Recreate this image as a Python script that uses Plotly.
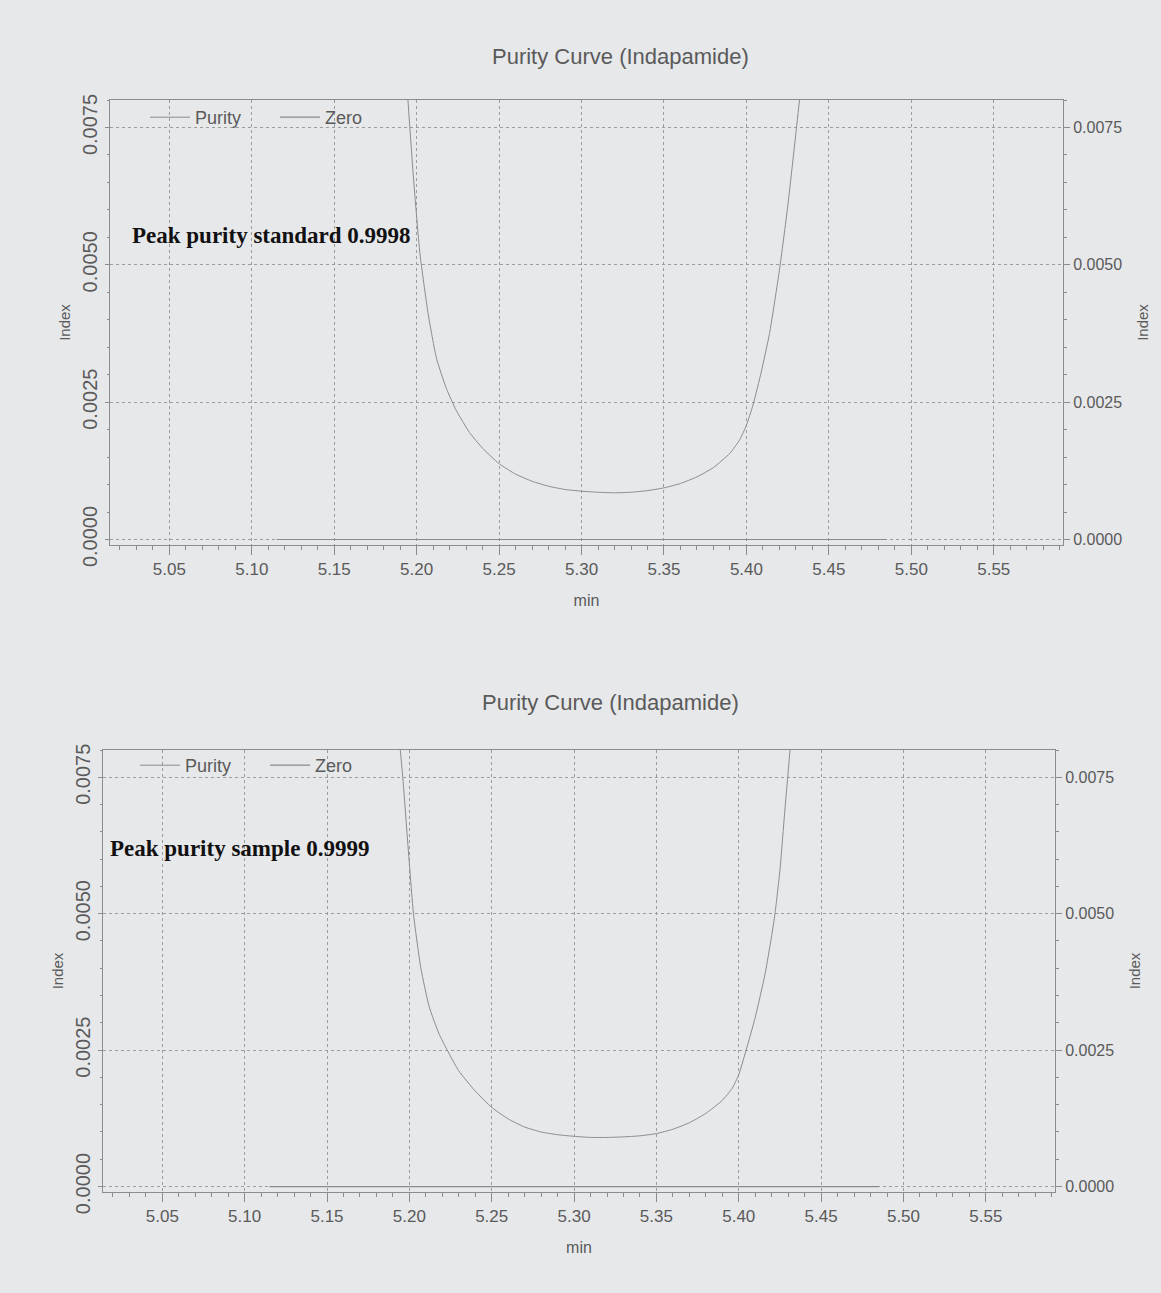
import plotly.graph_objects as go

# ---- data ----
std_time = [5.190, 5.194, 5.198, 5.202, 5.207, 5.212, 5.218, 5.224, 5.232, 5.240,
            5.250, 5.260, 5.270, 5.280, 5.290, 5.300, 5.310, 5.320, 5.330, 5.340,
            5.350, 5.360, 5.370, 5.380, 5.390, 5.396, 5.400, 5.404, 5.409, 5.414,
            5.420, 5.425, 5.430, 5.434]
std_purity = [0.0100, 0.0083, 0.0066, 0.0052, 0.0041, 0.0033, 0.00275, 0.00235, 0.00195, 0.00166,
              0.00138, 0.00119, 0.00106, 0.00097, 0.00091, 0.00088, 0.00086, 0.00085, 0.00086, 0.00089,
              0.00094, 0.00102, 0.00114, 0.00131, 0.00157, 0.00182, 0.00208, 0.00245, 0.00305, 0.00375,
              0.00490, 0.00605, 0.00740, 0.00850]

smp_time = [5.190, 5.193, 5.196, 5.2025, 5.207, 5.212, 5.218, 5.223, 5.230, 5.240,
            5.250, 5.260, 5.270, 5.280, 5.290, 5.300, 5.310, 5.320, 5.330, 5.340,
            5.350, 5.360, 5.370, 5.380, 5.390, 5.396, 5.400, 5.404, 5.410, 5.416,
            5.420, 5.422, 5.425, 5.428, 5.430, 5.433]
smp_purity = [0.0098, 0.0085, 0.0075, 0.0050, 0.0040, 0.0033, 0.0028, 0.0025, 0.00212, 0.00175,
              0.00145, 0.00124, 0.00109, 0.00100, 0.00095, 0.00092, 0.00090, 0.00090, 0.00091, 0.00093,
              0.00097, 0.00105, 0.00117, 0.00134, 0.00158, 0.00180, 0.00205, 0.00245, 0.00310, 0.00390,
              0.00460, 0.00500, 0.00580, 0.00690, 0.00760, 0.00870]

zero_time = [5.115, 5.485]
zero_value = [0.0, 0.0]

titles = ["Purity Curve (Indapamide)", "Purity Curve (Indapamide)"]
notes = ["Peak purity standard 0.9998", "Peak purity sample 0.9999"]

# ---- styling ----
BG = "#e7e8ea"
TXT = "#5a5a5a"
LINE = "#8c8c8c"
GRID = "#9c9c9c"
FONT = "Liberation Sans"

W, H = 1161, 1293

fig = go.Figure()

CURVE = dict(color=LINE, width=1, shape="spline", smoothing=0.5)
ZERO = dict(color="#8a8a8a", width=1.2)

# top chart
fig.add_trace(go.Scatter(x=std_time, y=std_purity, mode="lines", name="Purity",
                         line=CURVE, xaxis="x", yaxis="y", legend="legend"))
fig.add_trace(go.Scatter(x=zero_time, y=zero_value, mode="lines", name="Zero",
                         line=ZERO, xaxis="x", yaxis="y", legend="legend"))
fig.add_trace(go.Scatter(x=zero_time, y=zero_value, mode="lines", showlegend=False,
                         line=dict(width=0), opacity=0, hoverinfo="skip", xaxis="x", yaxis="y2"))
# bottom chart
fig.add_trace(go.Scatter(x=smp_time, y=smp_purity, mode="lines", name="Purity",
                         line=CURVE, xaxis="x2", yaxis="y3", legend="legend2"))
fig.add_trace(go.Scatter(x=zero_time, y=zero_value, mode="lines", name="Zero",
                         line=ZERO, xaxis="x2", yaxis="y3", legend="legend2"))
fig.add_trace(go.Scatter(x=zero_time, y=zero_value, mode="lines", showlegend=False,
                         line=dict(width=0), opacity=0, hoverinfo="skip", xaxis="x2", yaxis="y4"))

XR = [5.014, 5.592]
YR = [-0.0001, 0.0080]

def xax(domain, anchor):
    return dict(domain=domain, anchor=anchor, range=XR, tick0=5.0, dtick=0.05, tickformat=".2f",
                ticks="outside", ticklen=9, tickcolor=LINE, automargin=False,
                minor=dict(dtick=0.01, ticks="outside", ticklen=4, tickcolor=LINE, showgrid=False),
                showgrid=True, gridcolor=GRID, griddash="dot", gridwidth=1,
                showline=True, linecolor=LINE, linewidth=1, mirror=True,
                zeroline=False, tickfont=dict(family=FONT, size=17, color=TXT),
                title=dict(text="min", font=dict(family=FONT, size=16, color=TXT), standoff=16))

def yleft(domain, anchor):
    return dict(domain=domain, anchor=anchor, range=YR, tick0=0, dtick=0.0025, tickformat=".4f",
                tickangle=-90, ticks="outside", ticklen=4, tickcolor=LINE, automargin=False,
                minor=dict(dtick=0.0005, ticks="outside", ticklen=2, tickcolor=LINE, showgrid=False),
                showgrid=True, gridcolor=GRID, griddash="dot", gridwidth=1,
                showline=True, linecolor=LINE, linewidth=1, zeroline=False,
                tickfont=dict(family=FONT, size=20, color=TXT),
                title=dict(text="Index", font=dict(family=FONT, size=15, color=TXT), standoff=4))

def yright(overlay, anchor):
    return dict(overlaying=overlay, side="right", anchor=anchor, range=YR, tick0=0, dtick=0.0025,
                tickformat=".4f", ticks="outside", ticklen=6, tickcolor=LINE, automargin=False,
                minor=dict(dtick=0.0005, ticks="outside", ticklen=3, tickcolor=LINE, showgrid=False),
                showgrid=False, showline=True, linecolor=LINE, linewidth=1, zeroline=False,
                tickfont=dict(family=FONT, size=16, color=TXT),
                title=dict(text="Index", font=dict(family=FONT, size=15, color=TXT), standoff=16))

top_dom = [1 - 545 / H, 1 - 100 / H]
bot_dom = [1 - 1192 / H, 1 - 750 / H]

def leg(x0, y0):
    return dict(orientation="h", x=x0 / W, y=1 - y0 / H, xanchor="left", yanchor="top",
                bgcolor="rgba(0,0,0,0)", font=dict(family=FONT, size=18, color=TXT),
                itemwidth=40, entrywidthmode="pixels", entrywidth=75)

fig.update_layout(
    width=W, height=H,
    margin=dict(l=0, r=0, t=0, b=0),
    paper_bgcolor=BG, plot_bgcolor=BG,
    xaxis=xax([110 / W, 1063 / W], "y"),
    yaxis=yleft(top_dom, "x"),
    yaxis2=yright("y", "x"),
    xaxis2=xax([103 / W, 1055 / W], "y3"),
    yaxis3=yleft(bot_dom, "x2"),
    yaxis4=yright("y3", "x2"),
    legend=leg(145, 99),
    legend2=leg(135, 747),
    annotations=[
        dict(text=titles[0], x=620 / W, y=1 - 56 / H, xref="paper", yref="paper", yanchor="middle",
             showarrow=False, font=dict(family=FONT, size=22, color=TXT)),
        dict(text=titles[1], x=610 / W, y=1 - 702 / H, xref="paper", yref="paper", yanchor="middle",
             showarrow=False, font=dict(family=FONT, size=22, color=TXT)),
        dict(text="<b>" + notes[0] + "</b>", x=130 / W, y=1 - 236 / H, xref="paper", yref="paper",
             xanchor="left", yanchor="middle", showarrow=False,
             font=dict(family="Liberation Serif", size=23, color="#111")),
        dict(text="<b>" + notes[1] + "</b>", x=108 / W, y=1 - 848 / H, xref="paper", yref="paper",
             xanchor="left", yanchor="middle", showarrow=False,
             font=dict(family="Liberation Serif", size=23, color="#111")),
    ],
)

fig.write_html("out.html")
